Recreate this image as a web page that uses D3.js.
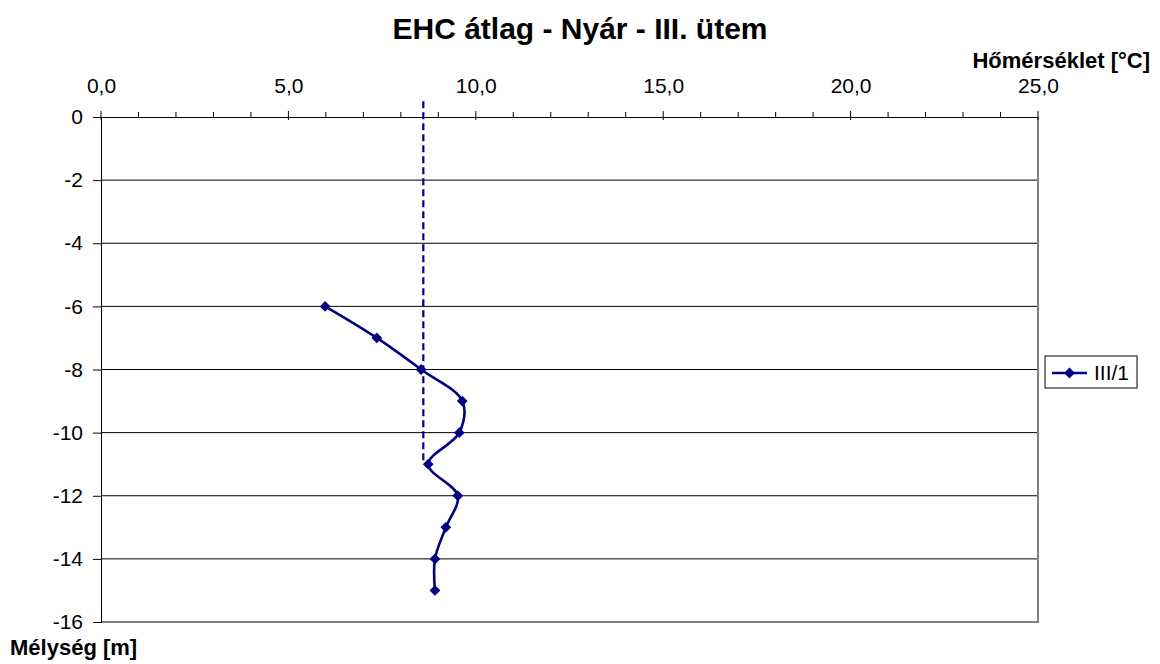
<!DOCTYPE html>
<html>
<head>
<meta charset="utf-8">
<script src="https://cdn.jsdelivr.net/npm/d3@7"></script>
<style>
  html, body { margin: 0; padding: 0; background: #fff; }
  svg { display: block; font-family: "Liberation Sans", Arial, sans-serif; }
</style>
</head>
<body>
<svg id="chart" width="1160" height="664"></svg>
<script>
// Depth profile III/1: temperature (°C) at each depth (m)
const depths = [-6, -7, -8, -9, -10, -11, -12, -13, -14, -15];
const temps  = [5.98, 7.36, 8.54, 9.64, 9.56, 8.73, 9.52, 9.20, 8.91, 8.91];

// Mean-temperature reference line
const meanTemp = 8.6;
const meanDepths = [0.5, -11];

const xTicks = [0, 5, 10, 15, 20, 25];
const yTicks = [0, -2, -4, -6, -8, -10, -12, -14, -16];
const seriesName = "III/1";

const svg = d3.select("#chart");
const plot = { left: 101, right: 1038, top: 117, bottom: 622 };
const navy = "#000080";
const FONT = "Liberation Sans, Arial, sans-serif";

const x = d3.scaleLinear().domain([0, 25]).range([plot.left, plot.right]);
const y = d3.scaleLinear().domain([0, -16]).range([plot.top, plot.bottom]);
const fmtX = v => d3.format(".1f")(v).replace(".", ",");
const fmtY = v => String(v);

// Horizontal gridlines
svg.append("g")
  .selectAll("line")
  .data(yTicks.filter(d => d !== 0 && d !== -16))
  .join("line")
  .attr("x1", plot.left).attr("x2", plot.right)
  .attr("y1", d => y(d)).attr("y2", d => y(d))
  .attr("stroke", "#000").attr("stroke-width", 1);

// Right and bottom frame
svg.append("path")
  .attr("d", `M${plot.right},${plot.top}V${plot.bottom}H${plot.left}`)
  .attr("fill", "none").attr("stroke", "#808080").attr("stroke-width", 2);

// Top (temperature) axis
const xAxis = d3.axisTop(x).tickValues(xTicks).tickFormat(fmtX).tickSize(0).tickPadding(24);
const gx = svg.append("g").attr("transform", `translate(0,${plot.top})`).call(xAxis);
gx.select(".domain").attr("stroke", "#000");
gx.selectAll("text").attr("font-size", 21).attr("fill", "#000").attr("font-family", FONT);
// minor ticks every 1 °C, major ticks crossing the axis
gx.selectAll("line.minor").data(d3.range(0, 26)).join("line").attr("class", "minor")
  .attr("x1", d => x(d)).attr("x2", d => x(d))
  .attr("y1", d => d % 5 === 0 ? -6 : -5).attr("y2", d => d % 5 === 0 ? 3 : 0)
  .attr("stroke", "#000");

// Left (depth) axis
const yAxis = d3.axisLeft(y).tickValues(yTicks).tickFormat(fmtY).tickSize(8).tickPadding(10);
const gy = svg.append("g").attr("transform", `translate(${plot.left},0)`).call(yAxis);
gy.select(".domain").attr("stroke", "#000");
gy.selectAll(".tick line").attr("stroke", "#000");
gy.selectAll("text").attr("font-size", 21).attr("fill", "#000").attr("font-family", FONT);

// Mean temperature dashed line
svg.append("line")
  .attr("x1", x(meanTemp)).attr("x2", x(meanTemp))
  .attr("y1", y(meanDepths[0])).attr("y2", y(meanDepths[1]))
  .attr("stroke", navy).attr("stroke-width", 2.2).attr("stroke-dasharray", "7,4");

// Profile line (smoothed) and markers
const pts = depths.map((d, i) => [temps[i], d]);
svg.append("path")
  .datum(pts)
  .attr("d", d3.line().x(p => x(p[0])).y(p => y(p[1])).curve(d3.curveCatmullRom.alpha(0.5)))
  .attr("fill", "none").attr("stroke", navy).attr("stroke-width", 2.6);

const marker = d3.symbol().type(d3.symbolSquare).size(58);
svg.append("g").selectAll("path").data(pts).join("path")
  .attr("transform", p => `translate(${x(p[0])},${y(p[1])}) rotate(45)`)
  .attr("d", marker)
  .attr("fill", navy);

// Legend
const lg = svg.append("g").attr("transform", "translate(1045,356)");
lg.append("rect").attr("width", 92).attr("height", 32)
  .attr("fill", "#fff").attr("stroke", "#000").attr("stroke-width", 1);
lg.append("line").attr("x1", 7).attr("x2", 42).attr("y1", 17).attr("y2", 17)
  .attr("stroke", navy).attr("stroke-width", 2.6);
lg.append("path").attr("transform", "translate(24.5,17) rotate(45)")
  .attr("d", marker).attr("fill", navy);
lg.append("text").attr("x", 49).attr("y", 24).attr("font-size", 21).text(seriesName);

// Titles
svg.append("text").attr("x", 580).attr("y", 39).attr("text-anchor", "middle")
  .attr("font-size", 30).attr("font-weight", "bold").text("EHC átlag - Nyár - III. ütem");
svg.append("text").attr("x", 1150).attr("y", 68).attr("text-anchor", "end")
  .attr("font-size", 22).attr("font-weight", "bold").text("Hőmérséklet [°C]");
svg.append("text").attr("x", 10).attr("y", 655)
  .attr("font-size", 22).attr("font-weight", "bold").text("Mélység [m]");
</script>
</body>
</html>
